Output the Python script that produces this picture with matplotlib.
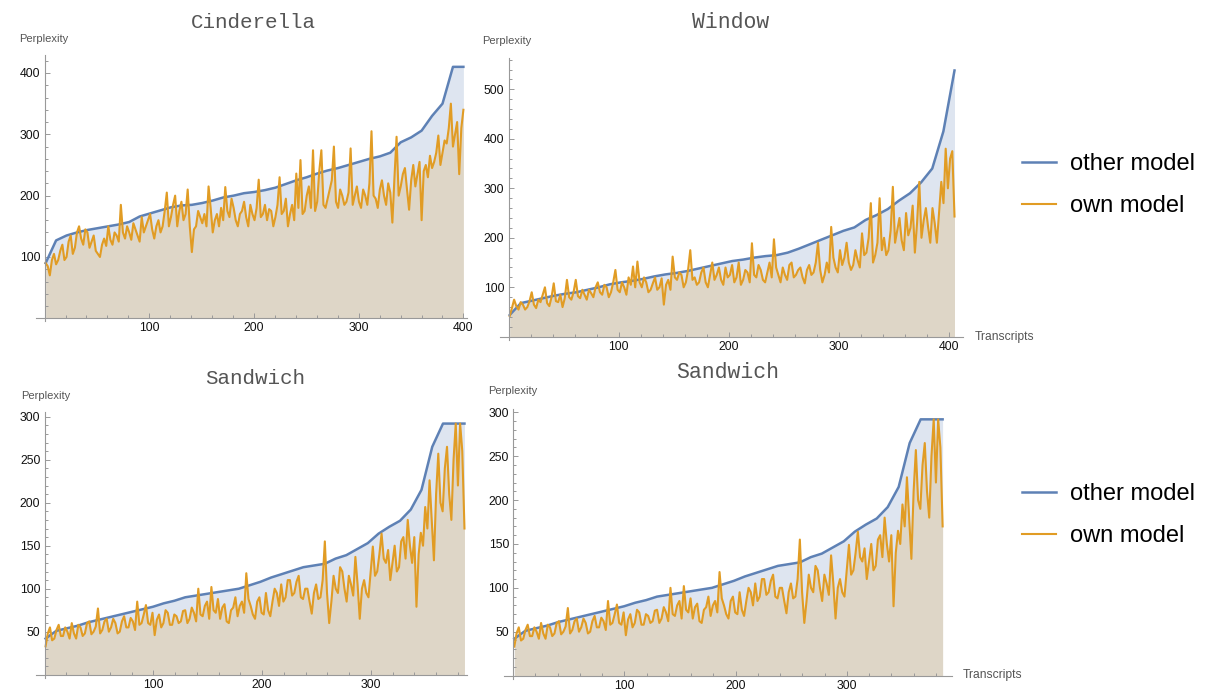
import numpy as np
import matplotlib.pyplot as plt
from matplotlib.ticker import MultipleLocator

plt.rcParams['font.family'] = ['Liberation Sans', 'DejaVu Sans']

blue = '#5E81B5'
orange = '#E19C24'

# Cinderella, 400 transcripts
cind_n = 400
cind_other = [90, 127, 135, 140, 144, 147, 150, 153, 157, 166, 171, 176, 181, 184, 185,
              188, 192, 197, 200, 204, 206, 209, 213, 219, 225, 230, 236, 241, 245, 250,
              255, 260, 264, 270, 287, 295, 306, 330, 350, 560, 700]
cind_own = [90, 85, 70, 95, 105, 88, 95, 110, 120, 95, 100, 125, 135, 105, 115, 140,
            150, 130, 120, 145, 140, 115, 125, 135, 110, 105, 100, 120, 130, 118, 150, 128,
            120, 140, 135, 125, 185, 140, 130, 150, 140, 128, 155, 145, 135, 125, 165, 140,
            150, 160, 170, 145, 130, 150, 160, 140, 150, 175, 205, 150, 165, 185, 200, 150,
            175, 190, 160, 170, 210, 150, 108, 145, 150, 175, 165, 155, 170, 150, 215, 180,
            140, 160, 170, 150, 180, 160, 214, 175, 165, 195, 180, 160, 150, 170, 175, 190,
            165, 150, 185, 170, 160, 180, 226, 165, 170, 185, 160, 178, 175, 150, 165, 185,
            230, 170, 175, 195, 150, 170, 185, 160, 236, 180, 258, 170, 175, 200, 215, 180,
            274, 175, 190, 240, 274, 185, 180, 195, 210, 225, 280, 190, 180, 210, 200, 185,
            190, 205, 277, 185, 200, 215, 190, 180, 210, 200, 185, 220, 305, 200, 195, 180,
            210, 225, 200, 185, 220, 205, 156, 230, 296, 200, 215, 235, 245, 210, 177, 225,
            250, 215, 235, 255, 160, 240, 250, 230, 265, 245, 255, 270, 298, 250, 270, 290,
            285, 310, 350, 280, 300, 320, 235, 310, 340]

# Window, 405 transcripts
win_n = 405
win_other = [44, 68, 73, 78, 83, 87, 90, 95, 100, 106, 110, 113, 117, 122, 126, 129, 133,
             138, 143, 148, 153, 156, 160, 163, 165, 170, 178, 187, 196, 205, 214, 221, 236,
             246, 258, 275, 290, 312, 340, 415, 538]
win_own = [42, 58, 75, 62, 55, 70, 65, 55, 60, 72, 90, 65, 58, 75, 70, 85, 100, 68, 62, 80,
           108, 72, 70, 85, 60, 78, 115, 80, 75, 90, 115, 82, 78, 95, 85, 75, 95, 88, 80,
           100, 110, 90, 85, 105, 100, 80, 90, 110, 135, 95, 90, 110, 100, 85, 120, 105,
           142, 100, 152, 110, 100, 120, 110, 90, 95, 108, 120, 95, 100, 118, 65, 105, 115,
           95, 162, 120, 115, 130, 125, 100, 110, 135, 175, 115, 120, 105, 110, 130, 140,
           110, 100, 125, 150, 115, 125, 140, 115, 105, 140, 120, 125, 145, 110, 120, 150,
           105, 115, 135, 130, 110, 189, 125, 120, 145, 135, 115, 110, 130, 150, 120, 197,
           140, 125, 110, 140, 125, 115, 145, 150, 120, 125, 135, 140, 120, 108, 135, 145,
           125, 130, 150, 190, 135, 110, 125, 150, 130, 222, 160, 140, 130, 175, 145, 160,
           190, 150, 135, 145, 175, 155, 140, 209, 165, 170, 200, 270, 150, 165, 190, 280,
           175, 200, 165, 175, 215, 303, 190, 215, 240, 195, 175, 250, 205, 220, 265, 170,
           230, 313, 200, 235, 260, 222, 190, 260, 230, 190, 250, 313, 270, 380, 300, 360,
           375, 243]

# Sandwich, 386 transcripts
sand_n = 386
sand_other = [42, 51, 54, 57, 61, 64, 67, 70, 73, 76, 79, 83, 86, 90, 92, 94, 96, 98, 100,
              104, 108, 113, 117, 121, 125, 127, 129, 135, 139, 146, 153, 164, 172, 179, 192,
              215, 265, 300, 350, 380]
sand_own = [33, 48, 55, 40, 42, 52, 58, 45, 45, 55, 50, 42, 60, 48, 42, 58, 55, 45, 48, 60,
            62, 47, 50, 56, 77, 48, 52, 62, 65, 50, 55, 65, 60, 48, 50, 62, 68, 55, 55, 66,
            62, 52, 85, 58, 60, 70, 81, 60, 58, 72, 46, 64, 70, 55, 60, 75, 72, 58, 58, 70,
            68, 60, 62, 74, 75, 60, 65, 78, 72, 62, 100, 70, 68, 80, 85, 65, 102, 75, 72,
            88, 65, 78, 82, 62, 60, 75, 78, 90, 68, 80, 85, 72, 118, 88, 80, 70, 65, 85, 90,
            72, 70, 95, 75, 68, 85, 100, 95, 80, 105, 85, 90, 110, 110, 92, 95, 108, 115, 90,
            88, 100, 100, 85, 71, 95, 105, 88, 90, 110, 155, 95, 60, 85, 115, 100, 95, 125,
            120, 100, 85, 115, 105, 92, 137, 105, 65, 100, 110, 95, 90, 120, 149, 115, 120,
            140, 164, 135, 130, 145, 110, 130, 150, 120, 125, 155, 160, 135, 180, 150, 130,
            160, 79, 140, 165, 150, 195, 170, 226, 180, 133, 210, 257, 200, 190, 240, 265,
            210, 180, 250, 300, 220, 300, 260, 170]

W, H = 1206.0, 694.0
fig = plt.figure(figsize=(12.06, 6.94), dpi=100)


def px_rect(x0, px_unit, xlim, y0, py_unit, ylim):
    left = x0 + xlim[0] * px_unit
    width = (xlim[1] - xlim[0]) * px_unit
    bottom = y0 - ylim[0] * py_unit
    height = (ylim[1] - ylim[0]) * py_unit
    return [left / W, 1 - bottom / H, width / W, height / H]


def panel(rect, n, other, own, clip, xlim, ylim, xt, ymaj, ymin):
    ax = fig.add_axes(rect)
    xo = np.linspace(1, n, len(other))
    xw = np.linspace(1, n, len(own))
    yo = np.minimum(other, clip)
    yw = np.minimum(own, clip)
    ax.fill_between(xo, 0, yo, color=blue, alpha=0.2, lw=0)
    ax.fill_between(xw, 0, yw, color=orange, alpha=0.2, lw=0)
    l1, = ax.plot(xo, yo, color=blue, lw=1.8)
    l2, = ax.plot(xw, yw, color=orange, lw=1.5)
    ax.set_xlim(*xlim)
    ax.set_ylim(*ylim)
    ax.set_facecolor('none')
    for s in ['top', 'right']:
        ax.spines[s].set_visible(False)
    for s in ['left', 'bottom']:
        ax.spines[s].set_position(('data', 0))
        ax.spines[s].set_color('#999999')
        ax.spines[s].set_linewidth(0.8)
    ax.set_xticks(xt)
    ax.set_yticks(np.arange(ymaj, ylim[1], ymaj))
    ax.xaxis.set_minor_locator(MultipleLocator(20))
    ax.yaxis.set_minor_locator(MultipleLocator(ymin))
    ax.tick_params(which='both', direction='in', color='#999999', width=0.7,
                   labelsize=8.8, labelcolor='#111111', pad=3)
    ax.tick_params(which='major', length=3.5)
    ax.tick_params(which='minor', length=2)
    return l1, l2


panel(px_rect(44.6, 1.047, (-8, 403), 318.3, 0.6133, (-5, 430)),
      cind_n, cind_other, cind_own, 410, (-8, 403), (-5, 430), [100, 200, 300, 400], 100, 20)
h2 = panel(px_rect(508.6, 1.101, (-8, 413), 336.8, 0.495, (-6, 563)),
           win_n, win_other, win_own, 1000, (-8, 413), (-6, 563), [100, 200, 300, 400], 100, 20)
panel(px_rect(44.5, 1.088, (-8, 388), 674.7, 0.86, (-4, 306)),
      sand_n, sand_other, sand_own, 292, (-8, 388), (-4, 306), [100, 200, 300], 50, 10)
h4 = panel(px_rect(513.2, 1.1125, (-8, 394.5), 675.6, 0.8776, (-4, 303.4)),
           sand_n, sand_other, sand_own, 292, (-8, 394.5), (-4, 303.4), [100, 200, 300], 50, 10)

titles = [('Cinderella', 253, 22, 15), ('Window', 731, 23, 15.5),
          ('Sandwich', 255, 378, 15), ('Sandwich', 728, 373, 15.5)]
for t, x, y, fs in titles:
    fig.text(x / W, 1 - y / H, t, ha='center', va='center', family='Liberation Mono',
             fontsize=fs, color='#555555')

for x, y in [(19.5, 39), (482.5, 41), (20.7, 396), (488, 391)]:
    fig.text(x / W, 1 - y / H, 'Perplexity', ha='left', va='center', fontsize=8,
             color='#555555')
for x, y in [(975, 337), (963, 675)]:
    fig.text(x / W, 1 - y / H, 'Transcripts', ha='left', va='center', fontsize=8.7,
             color='#555555')

for handles, ytop in [(h2, 153), (h4, 483)]:
    fig.legend(handles, ['other model', 'own model'], loc='upper left',
               bbox_to_anchor=(1021.7 / W, 1 - ytop / H), frameon=False, fontsize=17,
               borderpad=0, borderaxespad=0, handlelength=1.45, handletextpad=0.6,
               labelspacing=0.85)

fig.savefig('out.png', dpi=100)
